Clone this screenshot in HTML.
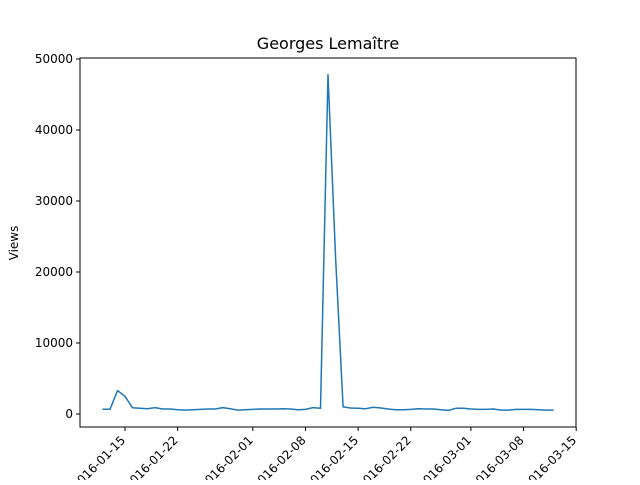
<!DOCTYPE html>
<html><head><meta charset="utf-8"><style>body{margin:0;background:#fff}svg{font-family:"DejaVu Sans","Liberation Sans",sans-serif}</style></head>
<body>
<svg id="c" width="640" height="480">
<rect x="0" y="0" width="640" height="480" fill="#fff"/>
<text x="328" y="49" font-size="16" text-anchor="middle">Georges Lemaître</text>
<text transform="translate(18,243) rotate(-90)" font-size="12" text-anchor="middle">Views</text>
<g id="g"></g>
<rect x="80" y="58" width="496" height="369" fill="none" stroke="#000" stroke-width="1"/>
</svg>
<script>
const views=[660,660,3300,2500,870,800,750,900,700,700,600,550,600,650,700,700,900,750,550,600,650,700,700,700,750,700,600,650,900,800,47800,22000,1000,850,800,750,950,850,700,600,600,650,750,700,700,600,500,800,800,700,650,650,700,550,550,650,650,650,600,550,550];
const startDayOffset=-3;
const yTicks=[0,10000,20000,30000,40000,50000];
const xTickLabels=["2016-01-15","2016-01-22","2016-02-01","2016-02-08","2016-02-15","2016-02-22","2016-03-01","2016-03-08","2016-03-15"];
const xTickDays=[0,7,17,24,31,38,46,53,60];
const ns="http://www.w3.org/2000/svg";
const g=document.getElementById('g');
function xs(d){return 125+d*7.52;}
function ys(v){return 414-v*0.0071;}
function mk(t,a){const e=document.createElementNS(ns,t);for(const k in a)e.setAttribute(k,a[k]);g.appendChild(e);return e;}
yTicks.forEach(v=>{
  const l=mk('line',{x1:76,x2:80,y1:ys(v),y2:ys(v),stroke:'#000'});
  
  
  const t=mk('text',{x:73,y:ys(v)+4,'font-size':12,'text-anchor':'end'});
  t.textContent=v;
  
  
});
xTickDays.forEach((d,i)=>{
  const x=xs(d);
  const l=mk('line',{x1:x,x2:x,y1:427,y2:431,stroke:'#000'});
  
  
  const t=mk('text',{x:x+1,y:441,'font-size':12,'text-anchor':'end',transform:`rotate(-45 ${x+1} 441)`});
  t.textContent=xTickLabels[i];
  
  
});
const pts=views.map((v,i)=>xs(i+startDayOffset).toFixed(1)+','+ys(v).toFixed(1)).join(' ');
const p=mk('polyline',{points:pts,fill:'none',stroke:'#1f77b4','stroke-width':1.5,'stroke-linejoin':'round'});


</script>
</body></html>
